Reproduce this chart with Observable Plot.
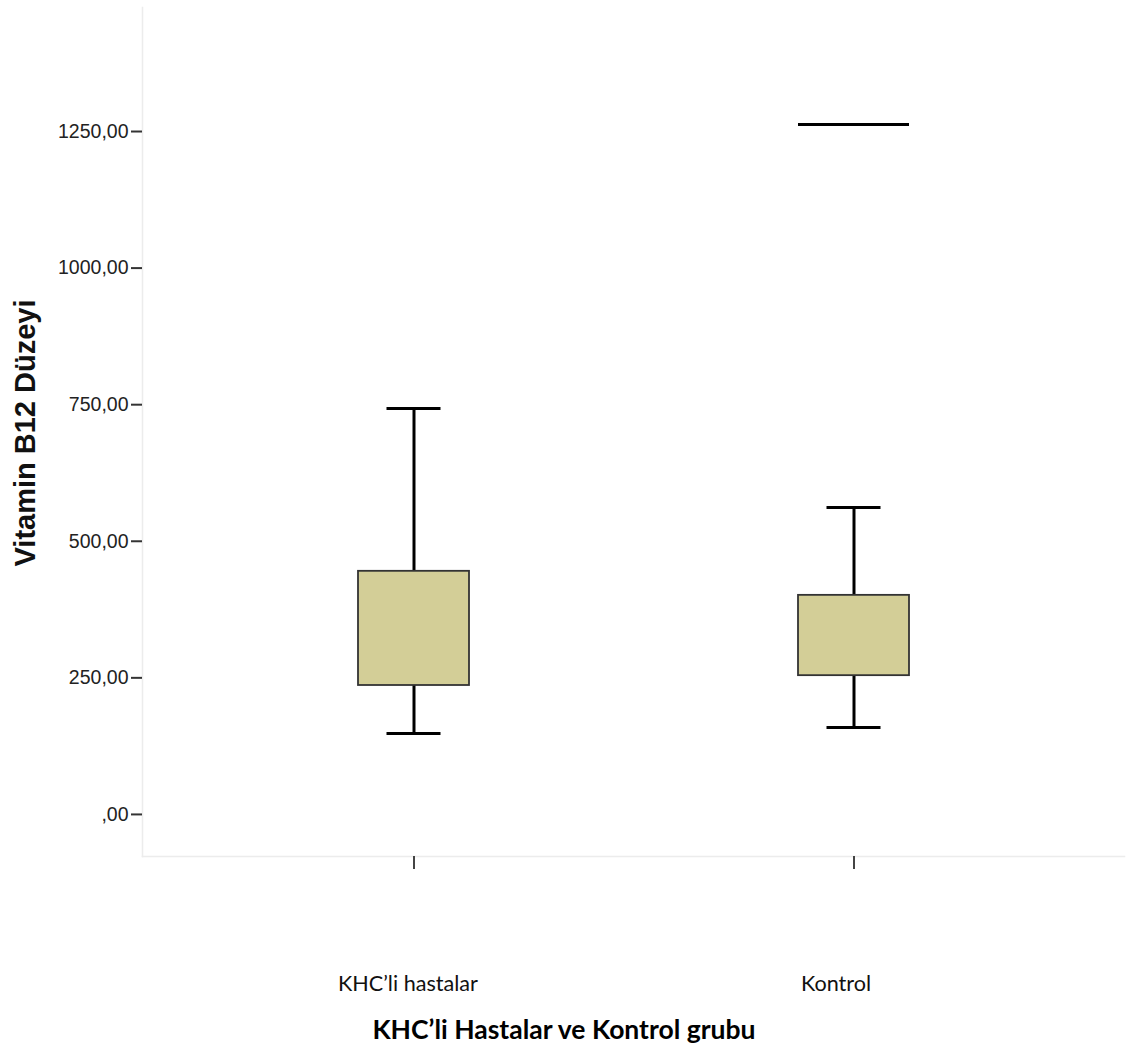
<!DOCTYPE html>
<html>
<head>
<meta charset="utf-8">
<script src="https://cdn.jsdelivr.net/npm/d3@7"></script>
<script src="https://cdn.jsdelivr.net/npm/@observablehq/plot@0.6"></script>
<style>
  html, body { margin: 0; padding: 0; background: #fff; overflow: hidden; }
  #title { font-family: Lato, "Open Sans", sans-serif; font-weight: bold; font-size: 26.5px; color: #000;
           text-align: center; width: 1140px; padding-right: 12px; box-sizing: border-box; margin-top: 16px; line-height: 27px; }
</style>
</head>
<body>
<div id="chart"></div>
<div id="title">KHC’li Hastalar ve Kontrol grubu</div>
<script>
const groups = ["KHC’li hastalar", "Kontrol"];
const lowerWhisker = [148, 159];
const q1 = [236, 254];
const q3 = [445, 401];
const upperWhisker = [743, 562];
const extremeGroups = ["Kontrol"];
const extremeValues = [1263];
const yTicks = [0, 250, 500, 750, 1000, 1250];

const boxes = groups.map((g, i) => ({
  group: g, lo: lowerWhisker[i], q1: q1[i], q3: q3[i], hi: upperWhisker[i]
}));
const extremes = extremeGroups.map((g, i) => ({group: g, value: extremeValues[i]}));

const xLabelStyle = {
  tickSize: 0, tickPadding: 119,
  fontSize: 21.6, fontFamily: "Lato, 'Open Sans', sans-serif",
  color: "#111", label: null
};

const chart = Plot.plot({
  width: 1140,
  height: 1000,
  marginTop: 7,
  marginLeft: 142,
  marginRight: 16,
  marginBottom: 144,
  style: {background: "#fff"},
  x: {type: "band", domain: groups, paddingInner: 0.748, paddingOuter: 0.4874, label: null},
  y: {domain: [-77, 1477], label: null},
  marks: [
    Plot.frame({anchor: "left", stroke: "#ececec", strokeWidth: 1.5}),
    Plot.frame({anchor: "bottom", stroke: "#ececec", strokeWidth: 1.5}),
    Plot.axisY({
      ticks: yTicks,
      tickFormat: d => d === 0 ? ",00" : d + ",00",
      tickSize: 11, tickPadding: 3,
      fontSize: 19.5, fontFamily: "Liberation Sans, Arial, sans-serif",
      stroke: "#333", strokeWidth: 2, color: "#222", label: null
    }),
    Plot.text(["Vitamin B12 Düzeyi"], {
      frameAnchor: "left", rotate: -90, textAnchor: "middle", dx: -117, dy: 1,
      fontSize: 29, fontWeight: "bold", fontFamily: "Liberation Sans, Arial, sans-serif", fill: "#111"
    }),
    // x tick marks
    Plot.axisX({tickSize: 13, tickFormat: () => "", stroke: "#444", strokeWidth: 2, label: null}),
    // x tick labels
    Plot.axisX([groups[0]], {...xLabelStyle, dx: -6}),
    Plot.axisX([groups[1]], {...xLabelStyle, dx: -18}),
    // whiskers
    Plot.ruleX(boxes, {x: "group", y1: "q3", y2: "hi", stroke: "#000", strokeWidth: 3}),
    Plot.ruleX(boxes, {x: "group", y1: "lo", y2: "q1", stroke: "#000", strokeWidth: 3}),
    Plot.tickY(boxes, {x: "group", y: "hi", stroke: "#000", strokeWidth: 3, insetLeft: 28.5, insetRight: 28.5}),
    Plot.tickY(boxes, {x: "group", y: "lo", stroke: "#000", strokeWidth: 3, insetLeft: 28.5, insetRight: 28.5}),
    // boxes
    Plot.barY(boxes, {x: "group", y1: "q1", y2: "q3", fill: "#d3ce97", stroke: "#333", strokeWidth: 1.8}),
    // extreme line
    Plot.tickY(extremes, {x: "group", y: "value", stroke: "#000", strokeWidth: 3})
  ]
});
document.getElementById("chart").appendChild(chart);
</script>
</body>
</html>
